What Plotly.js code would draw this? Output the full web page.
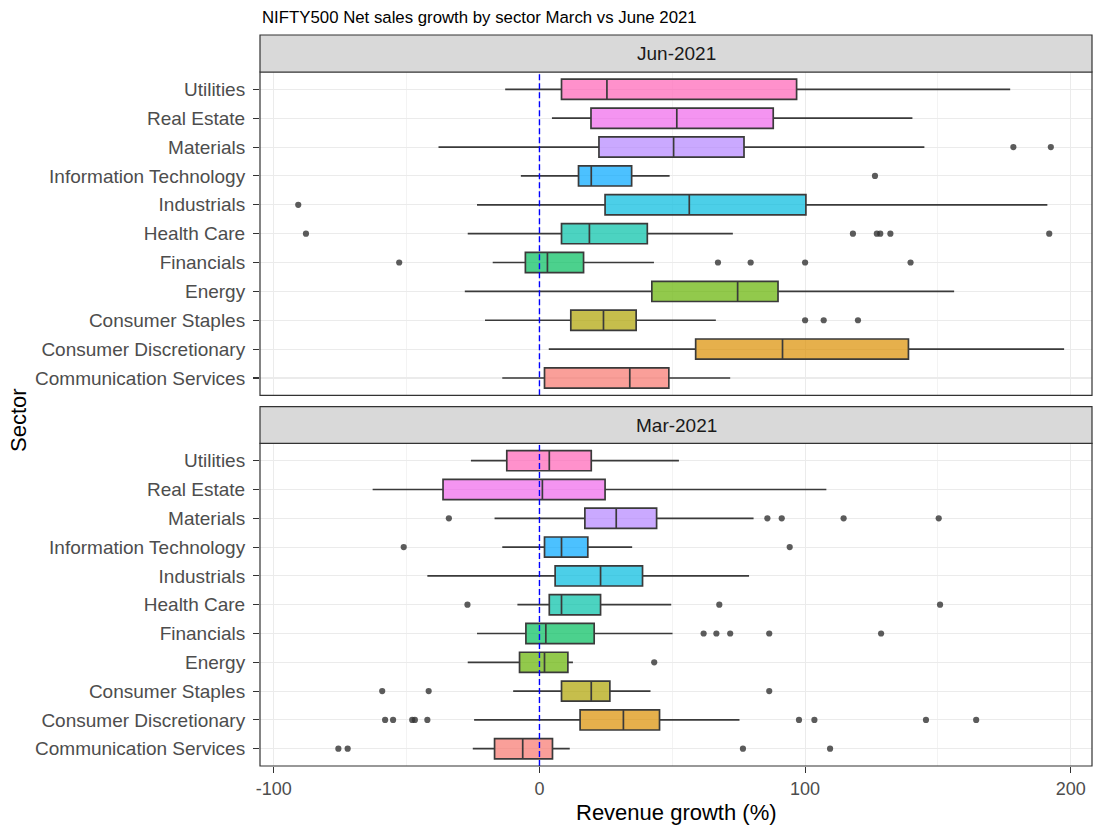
<!DOCTYPE html>
<html><head><meta charset="utf-8">
<script src="https://cdn.plot.ly/plotly-3.0.1.min.js"></script>
<style>body{margin:0;background:#fff}</style>
</head><body><div id="chart" style="width:1093px;height:827px"></div>
<script>
const sectors = ["Communication Services","Consumer Discretionary","Consumer Staples","Energy","Financials","Health Care","Industrials","Information Technology","Materials","Real Estate","Utilities"];
const sectorColors = ["#F8766D","#DB8E00","#AEA200","#64B200","#00BD5C","#00C1A7","#00BADE","#00A6FF","#B385FF","#EF67EB","#FF63B6"];
const facetLabels = ["Jun-2021","Mar-2021"];
const xTicks = [-100, 0, 100, 200];
const xMinorTicks = [-50, 50, 150];

// Jun-2021
const junLower  = [-14.0, 3.5, -20.5, -28.1, -17.6, -27.0, -23.5, -7.0, -38.0, 4.7, -12.9];
const junQ1     = [1.9, 58.8, 11.8, 42.3, -5.3, 8.3, 24.7, 14.7, 22.4, 19.4, 8.3];
const junMedian = [34.0, 91.5, 24.1, 74.6, 3.0, 18.8, 56.4, 19.5, 50.5, 51.7, 25.4];
const junQ3     = [48.7, 138.9, 36.4, 89.8, 16.6, 40.6, 100.3, 34.7, 77.0, 88.0, 96.8];
const junUpper  = [71.8, 197.5, 66.4, 156.1, 43.1, 72.8, 191.2, 49.0, 144.9, 140.4, 177.2];
const junOutliers = [[], [], [100.0,107.0,119.9], [], [-52.8,67.2,79.5,100.0,139.7], [-87.9,118.0,127.0,128.3,132.1,191.9], [-90.8], [126.3], [178.4,192.5], [], []];

// Mar-2021
const marLower  = [-25.1, -24.6, -9.9, -27.0, -23.5, -8.3, -42.2, -14.0, -16.9, -62.8, -25.8];
const marQ1     = [-16.9, 15.3, 8.3, -7.5, -5.1, 3.7, 5.9, 1.9, 17.1, -36.3, -12.3];
const marMedian = [-6.3, 31.6, 19.5, 1.9, 2.4, 8.3, 23.0, 8.3, 28.9, 1.1, 3.7];
const marQ3     = [4.9, 45.2, 26.5, 10.7, 20.6, 23.0, 38.8, 18.2, 44.1, 24.7, 19.5];
const marUpper  = [11.4, 75.3, 41.8, 12.6, 50.1, 49.6, 78.9, 34.9, 80.6, 108.0, 52.5];
const marOutliers = [[-75.7,-72.2,76.6,109.4], [-58.1,-55.1,-47.9,-46.9,-42.2,97.7,103.5,145.5,164.4], [-59.2,-41.7,86.5], [43.2], [61.8,66.6,71.8,86.5,128.6], [-27.1,67.7,150.8], [], [-51.1,94.2], [-34.1,85.8,91.2,114.5,150.3], [], []];

const FONT = "Liberation Sans, Arial, Helvetica, sans-serif";
function rgba(hex, a){
  const n = parseInt(hex.slice(1),16);
  return `rgba(${(n>>16)&255},${(n>>8)&255},${n&255},${a})`;
}

const panels = [
  {lo:junLower,q1:junQ1,med:junMedian,q3:junQ3,hi:junUpper,out:junOutliers,xa:'x2',ya:'y2'},
  {lo:marLower,q1:marQ1,med:marMedian,q3:marQ3,hi:marUpper,out:marOutliers,xa:'x',ya:'y'}
];
const traces = [];
panels.forEach(p=>{
  sectors.forEach((s,i)=>{
    traces.push({
      type:'box', orientation:'h', y:[s],
      q1:[p.q1[i]], median:[p.med[i]], q3:[p.q3[i]],
      lowerfence:[p.lo[i]], upperfence:[p.hi[i]],
      fillcolor: rgba(sectorColors[i],0.7),
      line:{color:'#3A3A3A', width:1.7},
      whiskerwidth:0, width:0.7, boxpoints:false,
      xaxis:p.xa, yaxis:p.ya, showlegend:false, hoverinfo:'skip'
    });
  });
  const ox=[], oy=[];
  p.out.forEach((arr,i)=>arr.forEach(v=>{ox.push(v); oy.push(sectors[i]);}));
  traces.push({type:'scatter', mode:'markers', x:ox, y:oy, xaxis:p.xa, yaxis:p.ya,
    marker:{color:'rgba(51,51,51,0.8)', size:6.2}, showlegend:false, hoverinfo:'skip'});
});

const H=827, mt=72, mb=61, ph=H-mt-mb;
const py = px => (H-mb-px)/ph;
const topDom=[py(395.3),1], botDom=[0,py(443.4)];

const xBase = {
  range:[-105.2,208], tickvals:xTicks, ticktext:xTicks.map(String),
  showgrid:true, gridcolor:'#EBEBEB', gridwidth:1.1, zeroline:false, showline:false,
  minor:{tickvals:xMinorTicks, showgrid:true, gridcolor:'#EBEBEB', gridwidth:0.6, ticks:''},
  tickfont:{family:FONT, size:18, color:'#4D4D4D'}, fixedrange:true
};
const yBase = {
  type:'category', categoryorder:'array', categoryarray:sectors, range:[-0.6,10.6],
  showgrid:true, gridcolor:'#EBEBEB', gridwidth:1.1, zeroline:false, showline:false,
  ticks:'outside', ticklen:6, tickwidth:1.1, tickcolor:'#333333', ticklabelstandoff:4,
  tickfont:{family:FONT, size:19, color:'#4D4D4D'}, fixedrange:true
};

const shapes = [];
[[topDom,'x2','y2'],[botDom,'x','y']].forEach(([d,xa,ya])=>{
  shapes.push({type:'line', xref:xa, yref:ya+' domain', x0:0, x1:0, y0:0, y1:1,
    line:{color:'#0000FF', width:1.4, dash:'6px,3px'}, layer:'above'});
  shapes.push({type:'rect', xref:'paper', yref:'paper', x0:0, x1:1, y0:d[0], y1:d[1],
    line:{color:'#333333', width:1.2}, fillcolor:'rgba(0,0,0,0)', layer:'above'});
});
const strips = [[py(35),1],[py(443.4),py(406.7)]];
strips.forEach(s=>shapes.push({type:'rect', xref:'paper', yref:'paper', x0:0, x1:1, y0:s[0], y1:s[1],
  line:{color:'#333333', width:1.2}, fillcolor:'#D9D9D9', layer:'above'}));

const annotations = [
  {text:"NIFTY500 Net sales growth by sector March vs June 2021", xref:'paper', yref:'paper',
   x:0, xanchor:'left', y:py(17), yanchor:'middle', showarrow:false,
   font:{family:FONT, size:16.8, color:'#000000'}},
  {text:facetLabels[0], xref:'paper', yref:'paper', x:0.5, y:(strips[0][0]+strips[0][1])/2,
   xanchor:'center', yanchor:'middle', showarrow:false, font:{family:FONT, size:19, color:'#1A1A1A'}},
  {text:facetLabels[1], xref:'paper', yref:'paper', x:0.5, y:(strips[1][0]+strips[1][1])/2,
   xanchor:'center', yanchor:'middle', showarrow:false, font:{family:FONT, size:19, color:'#1A1A1A'}},
  {text:"Revenue growth (%)", xref:'paper', yref:'paper', x:0.5, y:py(812), xanchor:'center', yanchor:'middle',
   showarrow:false, font:{family:FONT, size:22, color:'#000000'}},
  {text:"Sector", xref:'paper', yref:'paper', x:(18-260)/832, y:py(420), xanchor:'center', yanchor:'middle',
   textangle:-90, showarrow:false, font:{family:FONT, size:22, color:'#000000'}}
];

const layout = {
  width:1093, height:827, margin:{l:260, r:1, t:mt, b:mb},
  paper_bgcolor:'#FFFFFF', plot_bgcolor:'#FFFFFF', boxmode:'overlay', showlegend:false,
  font:{family:FONT},
  xaxis:Object.assign({}, xBase, {anchor:'y', domain:[0,1], ticks:'outside', ticklen:6, tickwidth:1.1, tickcolor:'#333333'}),
  xaxis2:Object.assign({}, xBase, {anchor:'y2', domain:[0,1], matches:'x', showticklabels:false, ticks:''}),
  yaxis:Object.assign({}, yBase, {domain:botDom, anchor:'x'}),
  yaxis2:Object.assign({}, yBase, {domain:topDom, anchor:'x2'}),
  shapes, annotations
};
Plotly.newPlot('chart', traces, layout, {staticPlot:true, displayModeBar:false});
</script></body></html>
